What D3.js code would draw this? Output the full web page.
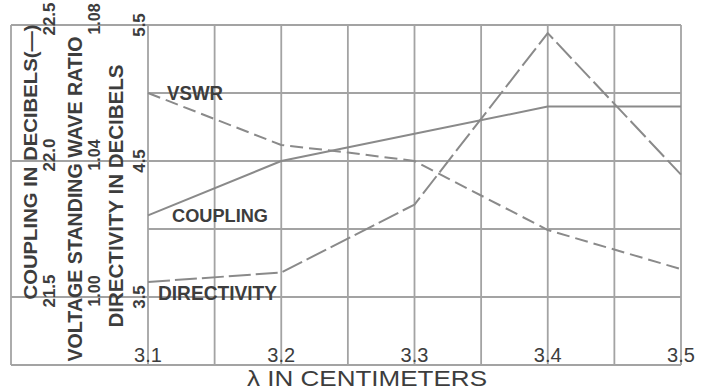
<!DOCTYPE html>
<html>
<head>
<meta charset="utf-8">
<script src="https://cdn.jsdelivr.net/npm/d3@7"></script>
<style>
  html, body { margin: 0; padding: 0; background: #fff; }
  svg { display: block; }
</style>
</head>
<body>
<svg id="chart" width="710" height="391"></svg>
<script>
// Wavelength sweep (cm) and the three measured quantities
const wavelengths = [3.1, 3.2, 3.3, 3.4, 3.5];
const couplingDb = [21.8, 22.0, 22.1, 22.2, 22.2];
const vswrWavelengths = [3.1, 3.2, 3.25, 3.3, 3.4, 3.5];
const vswrValues = [1.060, 1.0447, 1.0425, 1.040, 1.0197, 1.0082];
const directivityDb = [3.61, 3.68, 4.18, 5.44, 4.40];

// Tick values and their printed labels
const xTicks = [3.1, 3.2, 3.3, 3.4, 3.5];
const xTickLabels = ["3.1", "3.2", "3.3", "3.4", "3.5"];
const couplingTicks = [21.5, 22.0, 22.5];
const couplingTickLabels = ["21.5", "22.0", "22.5"];
const vswrTicks = [1.00, 1.04, 1.08];
const vswrTickLabels = ["1.00", "1.04", "1.08"];
const directivityTicks = [3.5, 4.5, 5.5];
const directivityTickLabels = ["3.5", "4.5", "5.5"];

const svg = d3.select("#chart");
const plot = { left: 148, right: 681, top: 25, bottom: 365 };
const panelLeft = 11;

const gridColor = "#a3a3a3";
const lineColor = "#8a8a8a";
const inkColor = "#3d3d3d";
const font = "'Liberation Sans', Arial, sans-serif";

// Scales: the three y-axes share the same grid rows
const x = d3.scaleLinear().domain([3.1, 3.5]).range([plot.left, plot.right]);
const yC = d3.scaleLinear().domain([21.25, 22.5]).range([plot.bottom, plot.top]);
const yV = d3.scaleLinear().domain([0.98, 1.08]).range([plot.bottom, plot.top]);
const yD = d3.scaleLinear().domain([3.0, 5.5]).range([plot.bottom, plot.top]);

// Grid
const grid = svg.append("g").attr("stroke", gridColor).attr("stroke-width", 1.8).attr("fill", "none");
const xGrid = d3.range(0, 9).map(i => 3.1 + i * 0.05);
grid.selectAll("line.v").data(xGrid).join("line")
  .attr("class", "v")
  .attr("x1", d => x(d)).attr("x2", d => x(d))
  .attr("y1", plot.top).attr("y2", plot.bottom);
const yGrid = d3.range(0, 6).map(i => 21.25 + i * 0.25);
// Rows on labelled values (and the frame) run across the label panel too
const extended = new Set([21.25, 21.5, 22.0, 22.5]);
grid.selectAll("line.h").data(yGrid).join("line")
  .attr("class", "h")
  .attr("x1", d => extended.has(d) ? panelLeft : plot.left)
  .attr("x2", plot.right)
  .attr("y1", d => yC(d)).attr("y2", d => yC(d));
grid.append("line")
  .attr("x1", panelLeft).attr("x2", panelLeft)
  .attr("y1", plot.top).attr("y2", plot.bottom);

// Data lines
const pts = (xs, ys) => xs.map((w, i) => [w, ys[i]]);
const couplingLine = d3.line().x(d => x(d[0])).y(d => yC(d[1]));
const vswrLine = d3.line().x(d => x(d[0])).y(d => yV(d[1]));
const dirLine = d3.line().x(d => x(d[0])).y(d => yD(d[1]));

const lines = svg.append("g").attr("fill", "none").attr("stroke", lineColor)
  .attr("stroke-width", 2).attr("stroke-linejoin", "round");
lines.append("path").attr("d", couplingLine(pts(wavelengths, couplingDb)));
lines.append("path").attr("d", vswrLine(pts(vswrWavelengths, vswrValues)))
  .attr("stroke-dasharray", "13,6");
lines.append("path").attr("d", dirLine(pts(wavelengths, directivityDb)))
  .attr("stroke-dasharray", "22,5");

// Rotated axis titles and tick labels in the left panel
const rot = svg.append("g").attr("fill", inkColor).attr("font-family", font).attr("font-weight", "bold");
function vText(txt, baseX, centerY, size, len) {
  rot.append("text")
    .attr("transform", `translate(${baseX},${centerY}) rotate(-90)`)
    .attr("text-anchor", "middle")
    .attr("font-size", size)
    .attr("textLength", len).attr("lengthAdjust", "spacingAndGlyphs")
    .text(txt);
}
vText("COUPLING IN DECIBELS(\u2014)", 37, 162, 19, 275);
vText("VOLTAGE STANDING WAVE RATIO", 82, 199, 20, 325);
vText("DIRECTIVITY IN DECIBELS", 123, 196, 20, 263);

function vTicks(vals, labels, scale, baseX, offset, size) {
  rot.selectAll(null).data(vals).join("text")
    .attr("transform", (d) => `translate(${baseX},${scale(d) + offset}) rotate(-90)`)
    .attr("text-anchor", "middle")
    .attr("font-size", size)
    .text((d, i) => labels[i]);
}
vTicks(couplingTicks, couplingTickLabels, yC, 55, -6, 17);
vTicks(vswrTicks, vswrTickLabels, yV, 100, -6, 16);
vTicks(directivityTicks, directivityTickLabels, yD, 145, 0, 17);

// X tick labels sit inside the bottom row
svg.append("g").attr("fill", inkColor).attr("font-family", font).attr("font-size", 20)
  .selectAll("text").data(xTicks).join("text")
  .attr("x", d => x(d)).attr("y", 362)
  .attr("text-anchor", "middle")
  .text((d, i) => xTickLabels[i]);

// X axis title
svg.append("text")
  .attr("x", 247).attr("y", 386)
  .attr("fill", inkColor).attr("font-family", font).attr("font-size", 22)
  .attr("textLength", 240).attr("lengthAdjust", "spacingAndGlyphs")
  .text("\u03bb IN CENTIMETERS");

// Curve labels
const tags = svg.append("g").attr("fill", inkColor).attr("font-family", font).attr("font-weight", "bold");
tags.append("text").attr("x", 167).attr("y", 100).attr("font-size", 20)
  .attr("textLength", 56).attr("lengthAdjust", "spacingAndGlyphs").text("VSWR");
tags.append("text").attr("x", 172).attr("y", 222).attr("font-size", 19)
  .attr("textLength", 96).attr("lengthAdjust", "spacingAndGlyphs").text("COUPLING");
tags.append("text").attr("x", 158).attr("y", 300).attr("font-size", 20)
  .attr("textLength", 119).attr("lengthAdjust", "spacingAndGlyphs").text("DIRECTIVITY");
</script>
</body>
</html>
